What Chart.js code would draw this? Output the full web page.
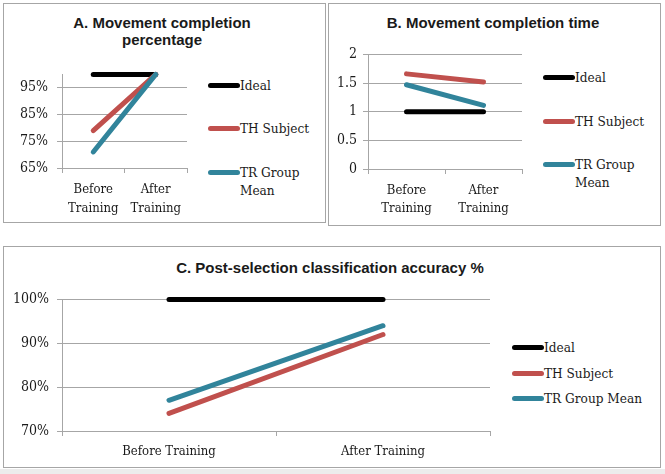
<!DOCTYPE html>
<html>
<head>
<meta charset="utf-8">
<script src="https://cdn.jsdelivr.net/npm/chart.js@4.4.0/dist/chart.umd.min.js"></script>
<style>
  html, body { margin: 0; padding: 0; }
  body { width: 665px; height: 474px; position: relative; background: #fff; overflow: hidden; }
  .strip { position: absolute; left: 0; top: 469px; width: 665px; height: 5px; background: #ececec; }
  .panel { position: absolute; border: 1px solid #a6a6a6; box-sizing: border-box; }
  .title { position: absolute; font-family: "Liberation Sans", Arial, sans-serif; font-weight: bold; color: #1a1a1a; text-align: center; }
  canvas { position: absolute; }
  .legend { position: absolute; font-family: "DejaVu Serif Condensed", "DejaVu Serif", serif; font-size: 13.5px; line-height: 18px; color: #1a1a1a; }
  .item { position: absolute; left: 0; display: flex; align-items: flex-start; white-space: nowrap; }
  .swatch { width: 32px; height: 5px; border-radius: 3px; margin-top: 6.5px; flex: none; }
  .wrap { white-space: normal; }
</style>
</head>
<body>
<div class="panel" style="left:3px;top:3px;width:323px;height:220px"></div>
<div class="panel" style="left:328px;top:3px;width:333px;height:223px"></div>
<div class="panel" style="left:3px;top:246px;width:658px;height:222px"></div>
<div class="strip"></div>

<div class="title" id="titleA" style="left:52px;top:14px;width:220px;font-size:15px;line-height:17px"></div>
<div class="title" id="titleB" style="left:343px;top:14px;width:300px;font-size:15px;line-height:17px"></div>
<div class="title" id="titleC" style="left:130px;top:259px;width:400px;font-size:15px;line-height:18px"></div>

<canvas id="chartA" width="185" height="163" style="left:12px;top:57px"></canvas>
<canvas id="chartB" width="214" height="183" style="left:318px;top:40px"></canvas>
<canvas id="chartC" width="488" height="180" style="left:12px;top:283px"></canvas>

<div class="legend" id="legendA" style="left:208px;top:0"></div>
<div class="legend" id="legendB" style="left:543px;top:0"></div>
<div class="legend" id="legendC" style="left:512px;top:0"></div>

<script>
// series shared by the three panels
const series = ['Ideal', 'TH Subject', 'TR Group Mean'];
const colours = ['#000000', '#C0504D', '#31849B'];

// A. completion percentage
const titleA = 'A. Movement completion percentage';
const catA = [['Before', 'Training'], ['After', 'Training']];
const idealA = [100, 100];
const thA = [79, 100];
const trA = [71, 100];
const ticksA = [65, 75, 85, 95];

// B. completion time
const titleB = 'B. Movement completion time';
const catB = [['Before', 'Training'], ['After', 'Training']];
const idealB = [1, 1];
const thB = [1.66, 1.52];
const trB = [1.47, 1.11];
const ticksB = [0, 0.5, 1, 1.5, 2];

// C. classification accuracy
const titleC = 'C. Post-selection classification accuracy %';
const catC = ['Before Training', 'After Training'];
const idealC = [100, 100];
const thC = [74, 92];
const trC = [77, 94];
const ticksC = [70, 80, 90, 100];

const serif = "'DejaVu Serif Condensed', 'DejaVu Serif', serif";
const gridCol = '#a6a6a6';
const textCol = '#1a1a1a';

function makeChart(id, labels, values, ticks, o) {
  return new Chart(document.getElementById(id), {
    type: 'line',
    data: {
      labels: labels,
      datasets: values.map((v, i) => ({
        label: series[i],
        data: v,
        borderColor: colours[i],
        backgroundColor: colours[i],
        borderWidth: 5,
        borderCapStyle: 'round',
        pointRadius: 0,
        clip: false,
        order: values.length - 1 - i
      }))
    },
    options: {
      responsive: false,
      animation: false,
      devicePixelRatio: 1,
      layout: { padding: { top: 10, right: 10, left: 0, bottom: 0 } },
      plugins: { legend: { display: false }, tooltip: { enabled: false } },
      scales: {
        x: {
          offset: true,
          grid: { drawOnChartArea: false, offset: true, tickLength: 5, color: gridCol },
          border: { color: gridCol },
          ticks: { font: { family: serif, size: 13, lineHeight: o.lh }, color: textCol, padding: o.xPad, maxRotation: 0, autoSkip: false },
          afterFit: s => { s.height = o.xHeight; }
        },
        y: {
          min: o.min,
          max: o.max,
          afterBuildTicks: s => { s.ticks = ticks.map(v => ({ value: v })); },
          grid: { color: gridCol, tickLength: 5 },
          border: { color: gridCol },
          ticks: { font: { family: serif, size: 14 }, color: textCol, padding: o.yPad, callback: o.fmt },
          afterFit: s => { s.width = 50; }
        }
      }
    }
  });
}

function makeLegend(id, centres, wrapWidth) {
  const box = document.getElementById(id);
  series.forEach((name, i) => {
    const item = document.createElement('div');
    item.className = 'item';
    item.style.top = (centres[i] - 9) + 'px';
    const sw = document.createElement('div');
    sw.className = 'swatch';
    sw.style.background = colours[i];
    const tx = document.createElement('div');
    tx.textContent = name;
    if (wrapWidth) { tx.className = 'wrap'; tx.style.width = wrapWidth + 'px'; }
    item.appendChild(sw);
    item.appendChild(tx);
    box.appendChild(item);
  });
}

document.getElementById('titleA').textContent = titleA;
document.getElementById('titleB').textContent = titleB;
document.getElementById('titleC').textContent = titleC;

const pct = v => v + '%';
makeChart('chartA', catA, [idealA, thA, trA], ticksA, { min: 65, max: 100, fmt: pct, xPad: 7, lh: 1.45, xHeight: 52, yPad: 9 });
makeChart('chartB', catB, [idealB, thB, trB], ticksB, { min: 0, max: 2, fmt: v => String(v), xPad: 8, lh: 1.35, xHeight: 54, yPad: 6 });
makeChart('chartC', catC, [idealC, thC, trC], ticksC, { min: 70, max: 100, fmt: pct, xPad: 7, lh: 1.38, xHeight: 32, yPad: 8 });

makeLegend('legendA', [85, 128, 172], 72);
makeLegend('legendB', [77, 121, 164], 72);
makeLegend('legendC', [347, 373, 398], 0);
</script>
</body>
</html>
